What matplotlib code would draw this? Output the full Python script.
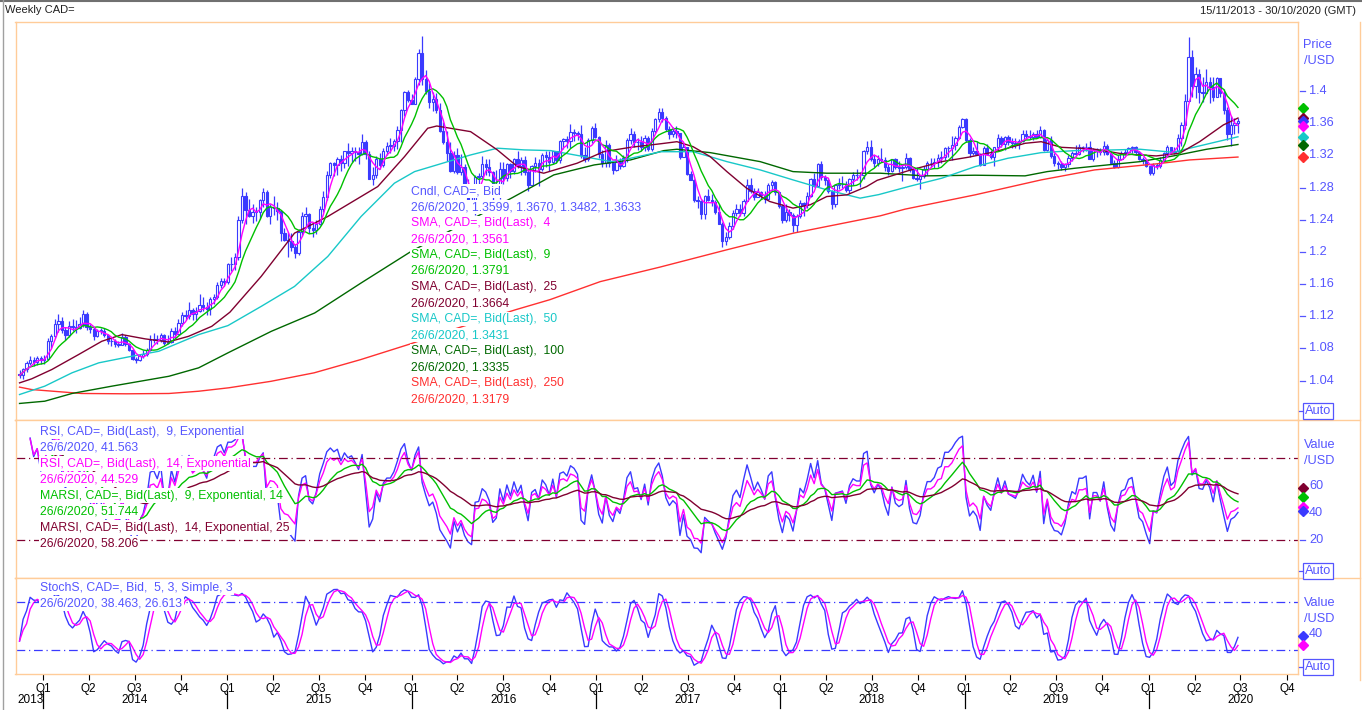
import numpy as np
import pandas as pd
import matplotlib
matplotlib.use('Agg')
import matplotlib.pyplot as plt
import matplotlib.dates as mdates
from matplotlib.lines import Line2D
from matplotlib.transforms import blended_transform_factory

plt.rcParams['font.family'] = ['Liberation Sans', 'DejaVu Sans']

# weekly CAD= candles (close, high, low), Fridays from 15/11/2013
first_open = 1.0480
wk2013 = [(1.0465, 1.0530, 1.0435), (1.0540, 1.0560, 1.0420), (1.0620, 1.0640, 1.0510),
          (1.0650, 1.0700, 1.0590), (1.0630, 1.0690, 1.0580), (1.0680, 1.0710, 1.0590),
          (1.0650, 1.0700, 1.0610)]
wk2014 = [(1.0670, 1.0720, 1.0600), (1.0890, 1.0930, 1.0660), (1.0950, 1.0980, 1.0810),
          (1.1100, 1.1170, 1.0930), (1.1140, 1.1225, 1.1000), (1.1030, 1.1190, 1.0990),
          (1.0960, 1.1060, 1.0900), (1.1080, 1.1140, 1.0940), (1.1070, 1.1160, 1.1020),
          (1.1050, 1.1150, 1.0990), (1.1100, 1.1190, 1.1040), (1.1230, 1.1280, 1.1070),
          (1.1060, 1.1250, 1.1030), (1.1040, 1.1100, 1.0990), (1.0950, 1.1060, 1.0900),
          (1.1020, 1.1040, 1.0940), (1.1020, 1.1050, 1.0980), (1.0960, 1.1050, 1.0940),
          (1.0890, 1.0980, 1.0850), (1.0890, 1.0930, 1.0830), (1.0850, 1.0920, 1.0820),
          (1.0840, 1.0890, 1.0820), (1.0940, 1.0990, 1.0840), (1.0850, 1.0960, 1.0830),
          (1.0780, 1.0870, 1.0770), (1.0670, 1.0790, 1.0660), (1.0650, 1.0690, 1.0620),
          (1.0710, 1.0730, 1.0640), (1.0730, 1.0780, 1.0680), (1.0780, 1.0800, 1.0700),
          (1.0910, 1.0960, 1.0770), (1.0920, 1.0990, 1.0870), (1.0900, 1.0960, 1.0860),
          (1.0970, 1.0990, 1.0880), (1.0870, 1.0980, 1.0840), (1.0880, 1.0960, 1.0850),
          (1.1020, 1.1050, 1.0870), (1.0980, 1.1060, 1.0930), (1.1120, 1.1160, 1.0980),
          (1.1220, 1.1250, 1.1080), (1.1200, 1.1280, 1.1150), (1.1280, 1.1380, 1.1160),
          (1.1230, 1.1300, 1.1150), (1.1270, 1.1320, 1.1150), (1.1340, 1.1470, 1.1250),
          (1.1310, 1.1440, 1.1260), (1.1290, 1.1380, 1.1220), (1.1420, 1.1440, 1.1210),
          (1.1440, 1.1470, 1.1350), (1.1590, 1.1630, 1.1420), (1.1640, 1.1680, 1.1550),
          (1.1620, 1.1670, 1.1570)]
wk2015 = [(1.1850, 1.1860, 1.1600), (1.1850, 1.1940, 1.1760), (1.1930, 1.1990, 1.1770),
          (1.2400, 1.2440, 1.1900), (1.2700, 1.2800, 1.2360), (1.2520, 1.2740, 1.2350),
          (1.2450, 1.2660, 1.2430), (1.2500, 1.2600, 1.2360), (1.2500, 1.2560, 1.2380),
          (1.2640, 1.2660, 1.2410), (1.2750, 1.2800, 1.2560), (1.2440, 1.2770, 1.2430),
          (1.2560, 1.2600, 1.2350), (1.2550, 1.2690, 1.2460), (1.2510, 1.2620, 1.2390),
          (1.2230, 1.2520, 1.2130), (1.2150, 1.2300, 1.2130), (1.2130, 1.2250, 1.1940),
          (1.2060, 1.2230, 1.2010), (1.1990, 1.2100, 1.1920), (1.2250, 1.2290, 1.1960),
          (1.2440, 1.2500, 1.2200), (1.2470, 1.2560, 1.2300), (1.2300, 1.2480, 1.2230),
          (1.2270, 1.2360, 1.2190), (1.2350, 1.2400, 1.2220), (1.2530, 1.2570, 1.2330),
          (1.2680, 1.2760, 1.2490), (1.2960, 1.3000, 1.2650), (1.3100, 1.3120, 1.2920),
          (1.3080, 1.3120, 1.2940), (1.3150, 1.3180, 1.2950), (1.3100, 1.3200, 1.3000),
          (1.3250, 1.3260, 1.3040), (1.3230, 1.3350, 1.3070), (1.3260, 1.3300, 1.3120),
          (1.3240, 1.3300, 1.3130), (1.3220, 1.3300, 1.3090), (1.3370, 1.3460, 1.3210),
          (1.3220, 1.3390, 1.3160), (1.2900, 1.3250, 1.2900), (1.2950, 1.3050, 1.2830),
          (1.3160, 1.3190, 1.2920), (1.3080, 1.3230, 1.3030), (1.3260, 1.3290, 1.3060),
          (1.3320, 1.3360, 1.3200), (1.3320, 1.3420, 1.3230), (1.3380, 1.3400, 1.3260),
          (1.3510, 1.3560, 1.3280), (1.3770, 1.3780, 1.3370), (1.3990, 1.4000, 1.3690),
          (1.3890, 1.4010, 1.3860)]
wk2016 = [(1.3840, 1.3960, 1.3840), (1.4150, 1.4170, 1.3850), (1.4470, 1.4520, 1.4080),
          (1.4150, 1.4690, 1.4080), (1.4000, 1.4260, 1.3960), (1.3860, 1.4100, 1.3790),
          (1.3900, 1.3990, 1.3750), (1.3770, 1.3970, 1.3730), (1.3500, 1.3850, 1.3490),
          (1.3370, 1.3620, 1.3340), (1.3230, 1.3500, 1.3130), (1.3000, 1.3370, 1.2990),
          (1.3210, 1.3250, 1.2980), (1.2990, 1.3290, 1.2970), (1.3060, 1.3220, 1.2950),
          (1.2810, 1.3090, 1.2780), (1.2630, 1.2900, 1.2610), (1.2540, 1.2790, 1.2520),
          (1.2930, 1.2950, 1.2460), (1.2940, 1.2980, 1.2770), (1.3090, 1.3190, 1.2910),
          (1.3060, 1.3160, 1.2960), (1.2990, 1.3150, 1.2940), (1.2750, 1.3000, 1.2650),
          (1.2780, 1.3020, 1.2740), (1.3030, 1.3120, 1.2660), (1.2920, 1.3120, 1.2840),
          (1.3090, 1.3110, 1.2880), (1.3000, 1.3110, 1.2920), (1.3150, 1.3170, 1.2970),
          (1.3070, 1.3260, 1.3040), (1.3140, 1.3180, 1.2960), (1.2990, 1.3190, 1.2950),
          (1.2830, 1.3030, 1.2760), (1.3070, 1.3080, 1.2830), (1.3100, 1.3180, 1.2990),
          (1.3030, 1.3160, 1.2820), (1.3210, 1.3230, 1.3000), (1.3180, 1.3250, 1.3060),
          (1.3120, 1.3250, 1.3000), (1.3250, 1.3260, 1.3090), (1.3140, 1.3250, 1.3100),
          (1.3380, 1.3390, 1.3100), (1.3400, 1.3420, 1.3280), (1.3380, 1.3440, 1.3290),
          (1.3490, 1.3590, 1.3290), (1.3480, 1.3530, 1.3380), (1.3460, 1.3500, 1.3390),
          (1.3200, 1.3580, 1.3170), (1.3160, 1.3300, 1.3120), (1.3390, 1.3410, 1.3130),
          (1.3540, 1.3560, 1.3350), (1.3430, 1.3600, 1.3410)]
wk2017 = [(1.3220, 1.3440, 1.3170), (1.3110, 1.3270, 1.3050), (1.3330, 1.3390, 1.3060),
          (1.3110, 1.3350, 1.3060), (1.3020, 1.3120, 1.2970), (1.3120, 1.3210, 1.3000),
          (1.3070, 1.3170, 1.3030), (1.3170, 1.3200, 1.3050), (1.3390, 1.3410, 1.3120),
          (1.3470, 1.3540, 1.3340), (1.3360, 1.3500, 1.3310), (1.3370, 1.3410, 1.3270),
          (1.3300, 1.3440, 1.3260), (1.3410, 1.3450, 1.3260), (1.3280, 1.3440, 1.3250),
          (1.3500, 1.3540, 1.3250), (1.3650, 1.3670, 1.3480), (1.3740, 1.3790, 1.3620),
          (1.3670, 1.3790, 1.3620), (1.3530, 1.3690, 1.3500), (1.3470, 1.3570, 1.3400),
          (1.3500, 1.3550, 1.3430), (1.3480, 1.3570, 1.3420), (1.3180, 1.3480, 1.3160),
          (1.3300, 1.3360, 1.3200), (1.2970, 1.3310, 1.2960), (1.2890, 1.3010, 1.2890),
          (1.2640, 1.2900, 1.2620), (1.2630, 1.2690, 1.2550), (1.2470, 1.2640, 1.2410),
          (1.2700, 1.2710, 1.2410), (1.2650, 1.2780, 1.2630), (1.2620, 1.2720, 1.2570),
          (1.2490, 1.2640, 1.2470), (1.2350, 1.2590, 1.2350), (1.2130, 1.2370, 1.2060),
          (1.2190, 1.2250, 1.2080), (1.2320, 1.2370, 1.2160), (1.2480, 1.2520, 1.2290),
          (1.2530, 1.2590, 1.2440), (1.2480, 1.2590, 1.2450), (1.2630, 1.2660, 1.2450),
          (1.2830, 1.2910, 1.2630), (1.2760, 1.2920, 1.2730), (1.2680, 1.2800, 1.2640),
          (1.2750, 1.2800, 1.2680), (1.2710, 1.2760, 1.2660), (1.2660, 1.2760, 1.2610),
          (1.2830, 1.2860, 1.2640), (1.2870, 1.2890, 1.2760), (1.2740, 1.2880, 1.2710),
          (1.2570, 1.2750, 1.2550)]
wk2018 = [(1.2400, 1.2590, 1.2360), (1.2500, 1.2590, 1.2370), (1.2460, 1.2530, 1.2380),
          (1.2330, 1.2480, 1.2250), (1.2440, 1.2470, 1.2250), (1.2610, 1.2650, 1.2420),
          (1.2580, 1.2620, 1.2450), (1.2690, 1.2750, 1.2550), (1.2900, 1.2920, 1.2680),
          (1.2820, 1.2980, 1.2810), (1.3090, 1.3110, 1.2820), (1.2930, 1.3130, 1.2890),
          (1.2890, 1.2960, 1.2830), (1.2760, 1.2920, 1.2730), (1.2590, 1.2770, 1.2530),
          (1.2830, 1.2840, 1.2560), (1.2840, 1.2920, 1.2780), (1.2850, 1.2940, 1.2790),
          (1.2770, 1.2880, 1.2740), (1.2900, 1.2920, 1.2730), (1.2960, 1.2990, 1.2830),
          (1.2950, 1.3030, 1.2890), (1.2950, 1.2990, 1.2810), (1.3260, 1.3270, 1.2910),
          (1.3310, 1.3380, 1.3220), (1.3150, 1.3390, 1.3130), (1.3100, 1.3200, 1.3060),
          (1.3160, 1.3200, 1.3070), (1.3140, 1.3290, 1.3120), (1.3060, 1.3180, 1.3000),
          (1.3000, 1.3090, 1.2960), (1.3150, 1.3160, 1.2990), (1.3060, 1.3170, 1.3030),
          (1.3040, 1.3130, 1.2990), (1.3050, 1.3090, 1.2880), (1.3170, 1.3230, 1.3030),
          (1.3030, 1.3180, 1.2990), (1.2920, 1.3060, 1.2900), (1.2910, 1.3060, 1.2880),
          (1.2940, 1.2960, 1.2780), (1.3030, 1.3070, 1.2920), (1.3100, 1.3130, 1.2960),
          (1.3100, 1.3170, 1.3050), (1.3120, 1.3170, 1.3040), (1.3170, 1.3220, 1.3060),
          (1.3180, 1.3250, 1.3110), (1.3290, 1.3300, 1.3140), (1.3290, 1.3320, 1.3180),
          (1.3330, 1.3440, 1.3140), (1.3420, 1.3440, 1.3270), (1.3550, 1.3580, 1.3400),
          (1.3650, 1.3670, 1.3540)]
wk2019 = [(1.3390, 1.3660, 1.3370), (1.3230, 1.3420, 1.3180), (1.3260, 1.3310, 1.3200),
          (1.3220, 1.3380, 1.3200), (1.3080, 1.3230, 1.3070), (1.3290, 1.3320, 1.3080),
          (1.3220, 1.3340, 1.3200), (1.3180, 1.3270, 1.3160), (1.3300, 1.3310, 1.3070),
          (1.3420, 1.3470, 1.3270), (1.3340, 1.3440, 1.3300), (1.3430, 1.3440, 1.3270),
          (1.3360, 1.3450, 1.3330), (1.3350, 1.3420, 1.3290), (1.3340, 1.3420, 1.3290),
          (1.3380, 1.3400, 1.3280), (1.3460, 1.3520, 1.3370), (1.3440, 1.3520, 1.3400),
          (1.3430, 1.3520, 1.3400), (1.3470, 1.3490, 1.3390), (1.3430, 1.3520, 1.3410),
          (1.3520, 1.3560, 1.3420), (1.3270, 1.3530, 1.3260), (1.3390, 1.3410, 1.3250),
          (1.3190, 1.3440, 1.3170), (1.3100, 1.3230, 1.3070), (1.3090, 1.3130, 1.3030),
          (1.3050, 1.3130, 1.3020), (1.3090, 1.3110, 1.3010), (1.3170, 1.3200, 1.3060),
          (1.3230, 1.3250, 1.3130), (1.3220, 1.3330, 1.3190), (1.3300, 1.3340, 1.3210),
          (1.3300, 1.3320, 1.3240), (1.3310, 1.3350, 1.3260), (1.3160, 1.3380, 1.3150),
          (1.3270, 1.3290, 1.3130), (1.3270, 1.3290, 1.3180), (1.3240, 1.3290, 1.3210),
          (1.3320, 1.3380, 1.3210), (1.3220, 1.3340, 1.3200), (1.3110, 1.3240, 1.3100),
          (1.3060, 1.3140, 1.3040), (1.3160, 1.3200, 1.3040), (1.3230, 1.3260, 1.3150),
          (1.3240, 1.3280, 1.3200), (1.3290, 1.3310, 1.3220), (1.3300, 1.3320, 1.3230),
          (1.3240, 1.3320, 1.3200), (1.3160, 1.3260, 1.3140), (1.3140, 1.3180, 1.3090),
          (1.3070, 1.3150, 1.3060)]
wk2020 = [(1.2980, 1.3070, 1.2950), (1.3080, 1.3110, 1.2960), (1.3070, 1.3110, 1.3030),
          (1.3140, 1.3180, 1.3040), (1.3230, 1.3240, 1.3120), (1.3300, 1.3330, 1.3190),
          (1.3240, 1.3310, 1.3230), (1.3260, 1.3300, 1.3220), (1.3420, 1.3470, 1.3240),
          (1.3580, 1.3610, 1.3320), (1.3880, 1.3960, 1.3530), (1.4420, 1.4670, 1.3880),
          (1.4060, 1.4510, 1.3920), (1.4210, 1.4300, 1.3910), (1.3990, 1.4270, 1.3850),
          (1.3980, 1.4180, 1.3860), (1.4110, 1.4270, 1.3960), (1.4050, 1.4180, 1.3850),
          (1.3920, 1.4170, 1.3870), (1.4160, 1.4170, 1.3930), (1.3980, 1.4150, 1.3930),
          (1.3770, 1.4020, 1.3720), (1.3470, 1.3800, 1.3390), (1.3580, 1.3690, 1.3320),
          (1.3599, 1.3660, 1.3470), (1.3633, 1.3670, 1.3482)]

# longer moving averages (date, value)
sma25_pts = [('2013-11-15', 1.0371), ('2013-12-09', 1.0421), ('2014-01-18', 1.0537), ('2014-03-12', 1.0723),
             ('2014-04-27', 1.0888), ('2014-06-06', 1.0971), ('2014-07-22', 1.0918), ('2014-09-06', 1.0880),
             ('2014-10-16', 1.0950), ('2014-12-01', 1.1074), ('2015-01-06', 1.1250), ('2015-03-09', 1.1695),
             ('2015-05-14', 1.2233), ('2015-07-19', 1.2440), ('2015-09-23', 1.2688), ('2015-10-26', 1.2812),
             ('2015-12-18', 1.3184), ('2016-02-02', 1.3537), ('2016-02-20', 1.3565), ('2016-04-27', 1.3495),
             ('2016-06-19', 1.3268), ('2016-07-29', 1.3060), ('2016-09-19', 1.2978), ('2016-11-24', 1.3102),
             ('2017-01-16', 1.3246), ('2017-03-10', 1.3300), ('2017-05-11', 1.3346), ('2017-06-10', 1.3370),
             ('2017-07-12', 1.3308), ('2017-08-15', 1.3184), ('2017-09-17', 1.2998), ('2017-10-26', 1.2792),
             ('2017-12-11', 1.2626), ('2018-01-26', 1.2544), ('2018-03-01', 1.2585), ('2018-04-03', 1.2688),
             ('2018-05-13', 1.2709), ('2018-06-21', 1.2812), ('2018-07-12', 1.2890), ('2018-09-12', 1.3010),
             ('2018-11-17', 1.3122), ('2019-01-09', 1.3177), ('2019-03-03', 1.3246), ('2019-05-01', 1.3350),
             ('2019-06-02', 1.3370), ('2019-07-12', 1.3300), ('2019-09-12', 1.3280), ('2019-11-11', 1.3218),
             ('2020-01-16', 1.3193), ('2020-03-02', 1.3226), ('2020-04-11', 1.3370), ('2020-05-28', 1.3578),
             ('2020-06-26', 1.3664)]
sma50_pts = [('2013-11-15', 1.0226), ('2014-01-04', 1.0330), ('2014-02-27', 1.0496), ('2014-04-21', 1.0620),
             ('2014-06-19', 1.0694), ('2014-08-18', 1.0764), ('2014-11-05', 1.0971), ('2015-01-02', 1.1083),
             ('2015-03-09', 1.1322), ('2015-05-14', 1.1570), ('2015-07-19', 1.1943), ('2015-09-23', 1.2440),
             ('2015-11-28', 1.2854), ('2016-01-07', 1.2998), ('2016-03-13', 1.3122), ('2016-04-27', 1.3205),
             ('2016-06-19', 1.3289), ('2016-08-11', 1.3268), ('2016-10-03', 1.3259), ('2016-12-08', 1.3184),
             ('2017-01-30', 1.3122), ('2017-03-10', 1.3164), ('2017-05-09', 1.3245), ('2017-07-12', 1.3246),
             ('2017-09-17', 1.3122), ('2017-11-22', 1.3019), ('2018-01-26', 1.2895), ('2018-04-03', 1.2771),
             ('2018-06-08', 1.2668), ('2018-07-15', 1.2712), ('2018-09-12', 1.2812), ('2018-11-17', 1.2916),
             ('2019-01-22', 1.3060), ('2019-03-28', 1.3164), ('2019-06-02', 1.3234), ('2019-08-08', 1.3259),
             ('2019-09-16', 1.3262), ('2019-12-15', 1.3276), ('2020-02-19', 1.3238), ('2020-03-22', 1.3288),
             ('2020-06-26', 1.3431)]
sma100_pts = [('2013-11-15', 1.0115), ('2014-01-04', 1.0143), ('2014-02-27', 1.0239), ('2014-05-17', 1.0330),
              ('2014-09-07', 1.0453), ('2014-11-05', 1.0558), ('2015-01-02', 1.0744), ('2015-03-29', 1.1012),
              ('2015-06-23', 1.1240), ('2015-09-23', 1.1613), ('2015-12-31', 1.2005), ('2016-07-19', 1.2675),
              ('2016-10-09', 1.2957), ('2016-12-28', 1.3081), ('2017-03-10', 1.3143), ('2017-05-15', 1.3259),
              ('2017-06-10', 1.3276), ('2017-08-15', 1.3234), ('2017-11-22', 1.3122), ('2018-01-26', 1.2998),
              ('2018-04-03', 1.2978), ('2018-07-18', 1.2978), ('2018-10-15', 1.2945), ('2019-01-22', 1.2953),
              ('2019-05-01', 1.2945), ('2019-06-14', 1.2998), ('2019-08-08', 1.3040), ('2019-09-16', 1.3065),
              ('2019-12-15', 1.3122), ('2020-02-19', 1.3193), ('2020-04-25', 1.3276), ('2020-06-26', 1.3335)]
sma250_pts = [('2013-11-15', 1.0318), ('2013-12-09', 1.0288), ('2014-03-18', 1.0239), ('2014-06-15', 1.0235),
              ('2014-09-07', 1.0239), ('2014-11-05', 1.0267), ('2015-01-04', 1.0310), ('2015-03-28', 1.0390),
              ('2015-06-22', 1.0496), ('2015-09-22', 1.0660), ('2015-12-30', 1.0856), ('2016-03-31', 1.1050),
              ('2016-07-25', 1.1280), ('2016-10-01', 1.1405), ('2017-01-09', 1.1630), ('2017-05-07', 1.1810),
              ('2017-09-17', 1.2026), ('2018-01-27', 1.2233), ('2018-07-18', 1.2448), ('2018-09-05', 1.2531),
              ('2019-01-22', 1.2709), ('2019-06-02', 1.2895), ('2019-09-16', 1.3019), ('2020-01-16', 1.3094),
              ('2020-03-22', 1.3143), ('2020-06-26', 1.3179)]

price_ticks = [1.04, 1.08, 1.12, 1.16, 1.2, 1.24, 1.28, 1.32, 1.36, 1.4]
last_vals = {'sma4': 1.3561, 'sma9': 1.3791, 'sma25': 1.3664, 'sma50': 1.3431,
             'sma100': 1.3335, 'sma250': 1.3179, 'close': 1.3633}
rsi_last = [41.563, 44.529, 51.744, 58.206]
stoch_last = [38.463, 26.613]

BLUE = '#3a3aff'
TXTBLUE = '#5555ff'
MAGENTA = '#ff00ff'
GREEN = '#00c000'
MAROON = '#800030'
CYAN = '#18c8c8'
DKGREEN = '#006800'
RED = '#ff3030'
ORANGE = '#ffcc99'
W, H = 1362, 710


def box(left, top, right, bottom):
    return [left / W, 1 - bottom / H, (right - left) / W, (bottom - top) / H]


def ftext(px, py, s, **kw):
    kw.setdefault('fontsize', 8.8)
    kw.setdefault('va', 'center')
    return fig.text(px / W, 1 - py / H, s, **kw)


def pts_series(pts):
    return pd.to_datetime([p[0] for p in pts]), np.array([p[1] for p in pts])


rows = wk2013 + wk2014 + wk2015 + wk2016 + wk2017 + wk2018 + wk2019 + wk2020
df = pd.DataFrame(rows, columns=['close', 'high', 'low'])
df.index = pd.date_range('2013-11-15', periods=len(df), freq='7D')
df['open'] = df['close'].shift(1).fillna(first_open)
df['high'] = df[['high', 'open', 'close']].max(axis=1)
df['low'] = df[['low', 'open', 'close']].min(axis=1)

# indicators
close = df['close']
sma4 = close.rolling(4, min_periods=1).mean()
sma9 = close.rolling(9, min_periods=1).mean()


def rsi(c, n):
    c = pd.concat([pd.Series([first_open]), c.reset_index(drop=True)])
    d = c.diff()
    g = d.clip(lower=0).ewm(span=n, adjust=True).mean()
    l = (-d.clip(upper=0)).ewm(span=n, adjust=True).mean()
    r = (100 * g / (g + l)).iloc[1:].values
    return pd.Series(r, index=df.index)


rsi9 = rsi(close, 9)
rsi14 = rsi(close, 14)
marsi9 = rsi9.ewm(span=14, adjust=True).mean()
marsi14 = rsi14.ewm(span=25, adjust=True).mean()
# the first weeks have no history behind them, leave them out
rsi9.iloc[:3] = np.nan
rsi14.iloc[:3] = np.nan
marsi9.iloc[:7] = np.nan
marsi14.iloc[:7] = np.nan

ll = df['low'].rolling(5, min_periods=1).min()
hh = df['high'].rolling(5, min_periods=1).max()
raw_k = 100 * (close - ll) / (hh - ll)
slow_k = raw_k.rolling(3, min_periods=1).mean()
slow_d = slow_k.rolling(3, min_periods=1).mean()

fig = plt.figure(figsize=(W / 100, H / 100), dpi=100)
ax_p = fig.add_axes(box(15.5, 21.7, 1298, 419.7))
ax_r = fig.add_axes(box(15.5, 419.7, 1298, 578.3), sharex=ax_p)
ax_s = fig.add_axes(box(15.5, 578.3, 1298, 674.3), sharex=ax_p)

x = mdates.date2num(df.index.to_pydatetime())
o, c, hi, lo = df['open'].values, df['close'].values, df['high'].values, df['low'].values
up = c >= o
bot = np.minimum(o, c)
hgt = np.maximum(np.abs(c - o), 0.0005)

ax_p.vlines(x, lo, hi, color=BLUE, lw=0.9, zorder=2)
ax_p.bar(x[up], hgt[up], bottom=bot[up], width=4.6, color='white', edgecolor=BLUE, lw=0.8, zorder=3)
ax_p.bar(x[~up], hgt[~up], bottom=bot[~up], width=4.6, color=BLUE, edgecolor=BLUE, lw=0.8, zorder=3)

for pts, col in [(sma250_pts, RED), (sma100_pts, DKGREEN), (sma50_pts, CYAN), (sma25_pts, MAROON)]:
    d, v = pts_series(pts)
    ax_p.plot(d, v, color=col, lw=1.0, zorder=4)
ax_p.plot(df.index, sma9, color=GREEN, lw=1.0, zorder=4)
ax_p.plot(df.index, sma4, color=MAGENTA, lw=1.0, zorder=5)

ax_p.set_ylim(0.9913, 1.4862)

# RSI panel
ax_r.plot(df.index, rsi9, color=BLUE, lw=1.0)
ax_r.plot(df.index, rsi14, color=MAGENTA, lw=1.0)
ax_r.plot(df.index, marsi9, color=GREEN, lw=1.0)
ax_r.plot(df.index, marsi14, color=MAROON, lw=1.0)
for lvl in [80, 20]:
    ax_r.axhline(lvl, color=MAROON, lw=0.9, ls=(0, (7, 3, 1, 3)))
ax_r.set_ylim(-7.8, 108.3)

# stochastic panel
ax_s.plot(df.index, slow_k, color=BLUE, lw=1.0)
ax_s.plot(df.index, slow_d, color=MAGENTA, lw=1.0)
for lvl in [80, 20]:
    ax_s.axhline(lvl, color=BLUE, lw=0.9, ls=(0, (7, 3, 1, 3)))
ax_s.set_ylim(-10, 110)

ax_p.set_xlim(pd.Timestamp('2013-11-07'), pd.Timestamp('2020-10-23'))

for ax in [ax_p, ax_r, ax_s]:
    for sp in ax.spines.values():
        sp.set_color(ORANGE)
        sp.set_linewidth(1.0)
    ax.set_yticks([])
    ax.tick_params(axis='x', bottom=False, labelbottom=False)

# quarter ticks on the bottom axis
qdates = pd.date_range('2014-01-01', '2020-10-01', freq='QS')
ax_s.set_xticks(qdates)
ax_s.set_xticklabels(['Q%d' % ((d.month - 1) // 3 + 1) for d in qdates])
ax_s.tick_params(axis='x', bottom=True, labelbottom=True, direction='out', length=4,
                 width=0.8, color='black', labelsize=8.5, pad=2)
tr_s = blended_transform_factory(ax_s.transData, ax_s.transAxes)
for yr in range(2014, 2021):
    xd = mdates.date2num(pd.Timestamp('%d-01-01' % yr))
    ax_s.plot([xd, xd], [-0.17, -0.35], transform=tr_s, color='black', lw=0.9, clip_on=False)
    ax_s.text(mdates.date2num(pd.Timestamp('%d-07-01' % yr)), -0.27, str(yr), transform=tr_s,
              ha='center', va='center', fontsize=8.5)
ftext(17, 700, '2013', fontsize=8.5)


def right_axis(ax, ticks, labels):
    tr = blended_transform_factory(ax.transAxes, ax.transData)
    for t, lab in zip(ticks, labels):
        ax.plot([1.0014, 1.0052], [t, t], transform=tr, color=TXTBLUE, lw=0.9, clip_on=False)
        ax.text(1.0085, t, lab, transform=tr, color=TXTBLUE, fontsize=9.2, va='center')


def diamonds(ax, vals, cols):
    tr = blended_transform_factory(ax.transAxes, ax.transData)
    for v, col in zip(vals, cols):
        ax.plot([1.0036], [v], 'D', transform=tr, color=col, ms=5, clip_on=False, zorder=6)


right_axis(ax_p, price_ticks, ['%g' % t for t in price_ticks])
right_axis(ax_r, [60, 40, 20], ['60', '40', '20'])
right_axis(ax_s, [40], ['40'])
diamonds(ax_p, [last_vals['sma9'], last_vals['sma25'], last_vals['close'], last_vals['sma4'],
                last_vals['sma50'], last_vals['sma100'], last_vals['sma250']],
         [GREEN, MAROON, BLUE, MAGENTA, CYAN, DKGREEN, RED])
diamonds(ax_r, rsi_last[::-1], [MAROON, GREEN, MAGENTA, BLUE])
diamonds(ax_s, stoch_last, [BLUE, MAGENTA])

for py, lab in [(45, 'Price'), (61, '/USD'), (445, 'Value'), (461, '/USD'), (603, 'Value'), (619, '/USD')]:
    ftext(1303.5, py, lab, color=TXTBLUE, fontsize=9.2)
for py in [411, 571, 667]:
    ftext(1305, py, 'Auto', color=TXTBLUE, fontsize=9.2,
          bbox=dict(boxstyle='square,pad=0.12', fc='white', ec=TXTBLUE, lw=0.9))
    fig.add_artist(Line2D([1299 / W, 1303 / W], [1 - py / H, 1 - py / H], color=TXTBLUE, lw=0.9))

# frame lines around the right hand scale
fig.add_artist(Line2D([1359.5 / W, 1359.5 / W], [1 - 21.7 / H, 1 - 680 / H], color=ORANGE, lw=1.0))
for py in [419.7, 578.3]:
    fig.add_artist(Line2D([1298 / W, 1359.5 / W], [1 - py / H, 1 - py / H], color=ORANGE, lw=1.0))
fig.add_artist(Line2D([0, 1], [1 - 1 / H, 1 - 1 / H], color='#707070', lw=1.5))
fig.add_artist(Line2D([3 / W, 3 / W], [0, 1], color='#a0a0a0', lw=1.0))

# header
ftext(5, 10, 'Weekly CAD=', fontsize=8, color='#202020')
ftext(1356, 11, '15/11/2013 - 30/10/2020 (GMT)', fontsize=8, color='#202020', ha='right')

# legend blocks drawn over the plots
bb = dict(boxstyle='square,pad=0.1', fc='white', ec='none')
price_legend = [('Cndl, CAD=, Bid', TXTBLUE),
                ('26/6/2020, 1.3599, 1.3670, 1.3482, 1.3633', TXTBLUE),
                ('SMA, CAD=, Bid(Last),  4', MAGENTA), ('26/6/2020, 1.3561', MAGENTA),
                ('SMA, CAD=, Bid(Last),  9', GREEN), ('26/6/2020, 1.3791', GREEN),
                ('SMA, CAD=, Bid(Last),  25', MAROON), ('26/6/2020, 1.3664', MAROON),
                ('SMA, CAD=, Bid(Last),  50', CYAN), ('26/6/2020, 1.3431', CYAN),
                ('SMA, CAD=, Bid(Last),  100', DKGREEN), ('26/6/2020, 1.3335', DKGREEN),
                ('SMA, CAD=, Bid(Last),  250', RED), ('26/6/2020, 1.3179', RED)]
for i, (s, col) in enumerate(price_legend):
    ftext(411, 191 + 16 * i, s, color=col, bbox=bb)

rsi_legend = [('RSI, CAD=, Bid(Last),  9, Exponential', TXTBLUE), ('26/6/2020, 41.563', TXTBLUE),
              ('RSI, CAD=, Bid(Last),  14, Exponential', MAGENTA), ('26/6/2020, 44.529', MAGENTA),
              ('MARSI, CAD=, Bid(Last),  9, Exponential, 14', GREEN), ('26/6/2020, 51.744', GREEN),
              ('MARSI, CAD=, Bid(Last),  14, Exponential, 25', MAROON), ('26/6/2020, 58.206', MAROON)]
for i, (s, col) in enumerate(rsi_legend):
    ftext(40.5, 431.7 + 16 * i, s, color=col, bbox=bb)

ftext(40.5, 587.5, 'StochS, CAD=, Bid,  5, 3, Simple, 3', color=TXTBLUE, bbox=bb)
ftext(40.5, 603.5, '26/6/2020, 38.463, 26.613', color=TXTBLUE, bbox=bb)

fig.savefig('out.png', dpi=100, facecolor='white')
